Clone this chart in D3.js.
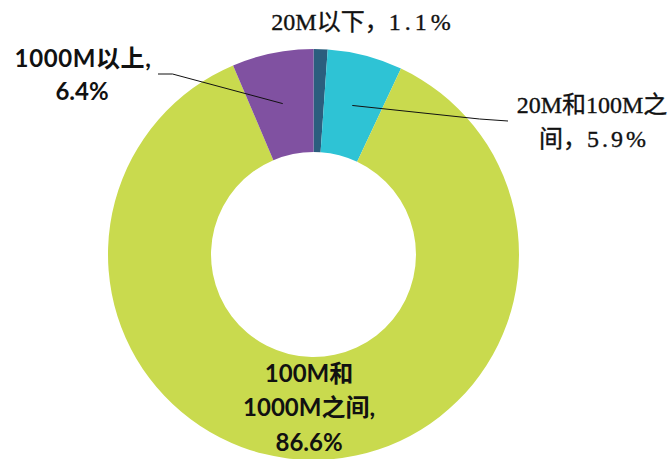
<!DOCTYPE html>
<html>
<head>
<meta charset="utf-8">
<script src="https://cdn.jsdelivr.net/npm/d3@7"></script>
<style>
  html, body { margin: 0; padding: 0; background: #fff; }
  svg { display: block; }
</style>
</head>
<body>
<svg id="chart" width="668" height="459"></svg>
<script>
// Bandwidth share by category
const categories = ["20M以下", "20M和100M之间", "100M和1000M之间", "1000M以上"];
const shares = [1.1, 5.9, 86.6, 6.4];
const labelText = ["1.1%", "5.9%", "86.6%", "6.4%"];
const colors = ["#2b5e7e", "#2ec3d5", "#c9da4e", "#8051a1"];

const svg = d3.select("#chart");
const cx = 313.5, cy = 254.5;
const outerR = 205.5, innerR = 102.5;

const data = categories.map((c, i) => ({ name: c, value: shares[i], label: labelText[i], color: colors[i] }));

const pie = d3.pie().value(d => d.value).sort(null);
const arc = d3.arc().innerRadius(innerR).outerRadius(outerR);
const arcs = pie(data);

const g = svg.append("g").attr("transform", `translate(${cx},${cy})`);

g.selectAll("path.slice")
  .data(arcs)
  .join("path")
  .attr("class", "slice")
  .attr("d", arc)
  .attr("fill", d => d.data.color);

const serif = "'Liberation Serif', 'Noto Sans CJK SC', serif";
const bold = "Lato, 'Noto Sans CJK SC', sans-serif";

// Leader lines from slice centroids to the outside labels
const leaders = [
  { i: 1, path: c => [c, [cx + 166, cy - 135.5], [cx + 194.5, cy - 133.5]] },
  { i: 3, path: c => [c, [cx - 141, cy - 180.5], [cx - 155.5, cy - 180.5]] }
];
leaders.forEach(l => {
  const c = arc.centroid(arcs[l.i]);
  const pts = l.path([cx + c[0], cy + c[1]]);
  svg.append("path")
    .attr("d", d3.line()(pts))
    .attr("fill", "none")
    .attr("stroke", "#111")
    .attr("stroke-width", 1);
});

// Top label: 20M以下
const t0 = svg.append("text")
  .attr("x", 363).attr("y", 30)
  .attr("text-anchor", "middle")
  .attr("font-family", serif)
  .attr("font-size", 24)
  .attr("fill", "#111")
  .attr("stroke", "#111")
  .attr("stroke-width", 0.35);
t0.append("tspan").text(data[0].name + "，");
t0.append("tspan").attr("letter-spacing", 4).text(data[0].label);

// Right label: 20M和100M之间 (wrapped)
const t1 = svg.append("text")
  .attr("text-anchor", "middle")
  .attr("font-family", serif)
  .attr("font-size", 24)
  .attr("fill", "#111")
  .attr("stroke", "#111")
  .attr("stroke-width", 0.35);
t1.append("tspan").attr("x", 592).attr("y", 113).text("20M和100M之");
const t1b = t1.append("tspan").attr("x", 594).attr("y", 147);
t1b.text("间，");
t1.append("tspan").attr("letter-spacing", 3).text(data[1].label);

// Left label: 1000M以上
const t3 = svg.append("text")
  .attr("text-anchor", "middle")
  .attr("font-family", bold)
  .attr("font-weight", "bold")
  .attr("font-size", 24)
  .attr("fill", "#111");
t3.append("tspan").attr("x", 83).attr("y", 67).attr("letter-spacing", 0.6).text(data[3].name + ",");
t3.append("tspan").attr("x", 82).attr("y", 100).text(data[3].label);

// Inside label for the large slice, placed at its centroid
const c2 = arc.centroid(arcs[2]);
const t2 = svg.append("text")
  .attr("text-anchor", "middle")
  .attr("font-family", bold)
  .attr("font-weight", "bold")
  .attr("font-size", 24)
  .attr("fill", "#111");
const lx = cx + c2[0] - 1.5;
const ly = cy + c2[1];
t2.append("tspan").attr("x", lx).attr("y", ly - 26).text("100M和");
t2.append("tspan").attr("x", lx).attr("y", ly + 8).text("1000M之间,");
t2.append("tspan").attr("x", lx).attr("y", ly + 43).text(data[2].label);
</script>
</body>
</html>
